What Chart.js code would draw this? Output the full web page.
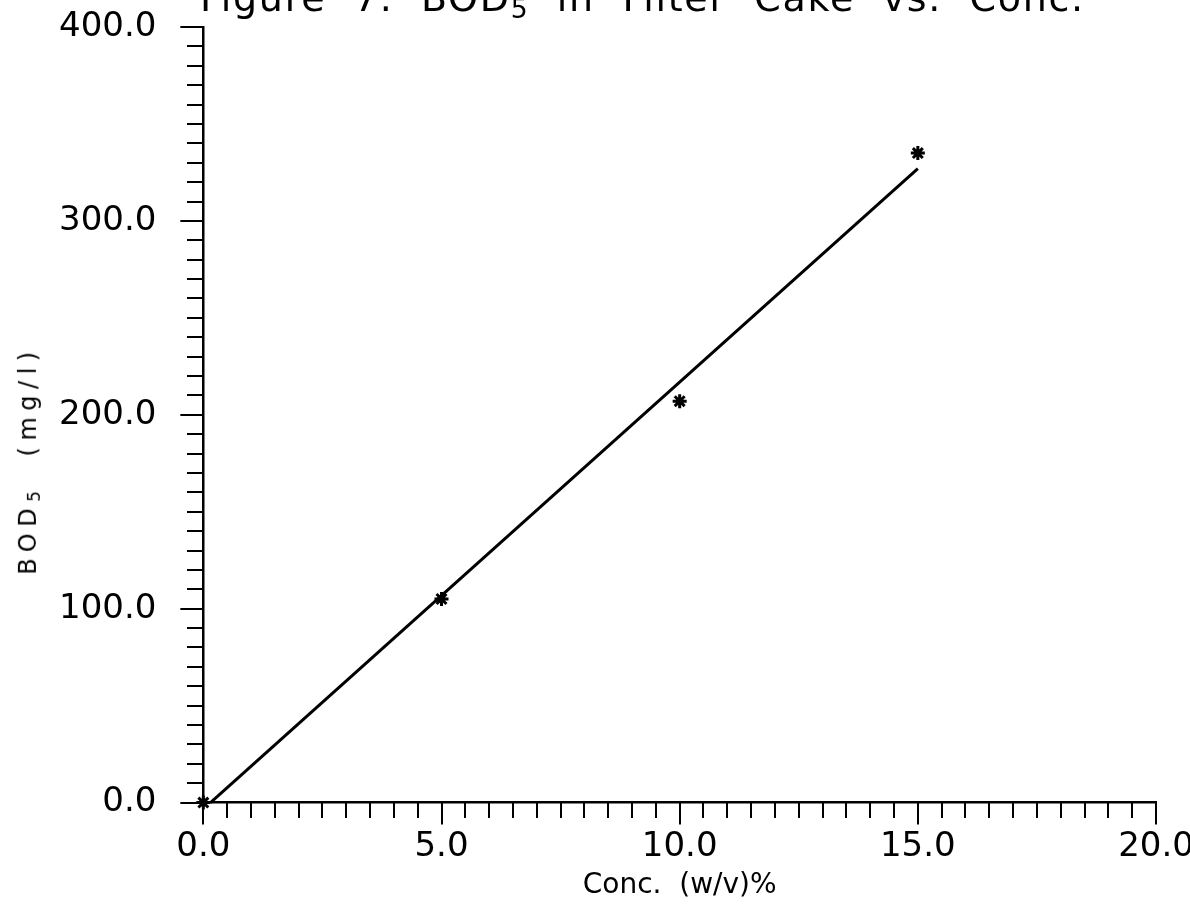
<!DOCTYPE html>
<html>
<head>
<meta charset="utf-8">
<script src="https://cdn.jsdelivr.net/npm/chart.js@4.4.0/dist/chart.umd.min.js"></script>
<style>
  html, body { margin: 0; padding: 0; background: #fff; }
  #wrap { position: relative; width: 1190px; height: 905px; overflow: hidden; background: #fff; }
  #chart { position: absolute; left: 0; top: 0; }
  #title { position: absolute; left: 200px; top: -21px; font-family: "DejaVu Sans"; font-size: 38px; line-height: 38px; letter-spacing: 1.7px; white-space: pre; color: #000; }
  #ylab { position: absolute; left: 31px; top: 460px; font-family: "DejaVu Sans"; font-size: 24px; line-height: 24px; letter-spacing: 6.5px; white-space: pre; color: #000; transform: translate(-50%, -50%) rotate(-90deg); }
  .sub { font-size: 0.7em; vertical-align: -0.25em; }
</style>
</head>
<body>
<div id="wrap">
  <canvas id="chart" width="1190" height="905"></canvas>
  <div id="title">Figure  7.  BOD<span class="sub">5</span>  in  Filter  Cake  vs.  Conc.</div>
  <div id="ylab">BOD<span class="sub">5</span>  (mg/l)</div>
</div>
<script>
// Measured points (Conc. % w/v vs BOD5 mg/l)
const conc = [0, 5, 10, 15];
const bod5 = [0, 105, 207, 335];
// Fitted straight line endpoints
const fitConc = [0.15, 15];
const fitBod5 = [0, 327];
// Axis ranges / tick steps
const xRange = [0, 20];
const yRange = [0, 400];
const xMajorStep = 5, xMinorStep = 0.5;
const yMajorStep = 100, yMinorStep = 10;
const xTitle = 'Conc.  (w/v)%';

Chart.defaults.font.family = '"DejaVu Sans"';
Chart.defaults.color = '#000';

const pts = conc.map((x, i) => ({ x: x, y: bod5[i] }));
const fit = fitConc.map((x, i) => ({ x: x, y: fitBod5[i] }));

// let the layout padding alone decide the plot-area edges
const noAutoPad = (s) => { s.paddingTop = 0; s.paddingBottom = 0; s.paddingLeft = 0; s.paddingRight = 0; };
const minorGrid = (len) => ({ drawOnChartArea: false, tickLength: len, color: '#000', lineWidth: 2 });

new Chart(document.getElementById('chart'), {
  type: 'scatter',
  data: {
    datasets: [
      { label: 'BOD5', data: pts, showLine: false, pointStyle: 'star', pointRadius: 7, pointHoverRadius: 7,
        borderColor: '#000', backgroundColor: '#000', borderWidth: 3, clip: false },
      { label: 'fit', data: fit, showLine: true, pointRadius: 0, pointHoverRadius: 0,
        borderColor: '#000', borderWidth: 3, clip: false }
    ]
  },
  options: {
    responsive: false,
    animation: false,
    devicePixelRatio: 1,
    events: [],
    layout: { autoPadding: false, padding: { left: 35, top: 27, right: 34, bottom: 2 } },
    plugins: { legend: { display: false }, tooltip: { enabled: false }, title: { display: false } },
    scales: {
      x: {
        type: 'linear', position: 'bottom', min: xRange[0], max: xRange[1],
        afterFit: noAutoPad,
        ticks: { stepSize: xMajorStep, callback: v => v.toFixed(1), font: { size: 34 }, padding: 2, maxRotation: 0, autoSkip: false, color: '#000' },
        grid: { drawOnChartArea: false, tickLength: 22, color: '#000', lineWidth: 2 },
        border: { color: '#000', width: 2.5 },
        title: { display: true, text: xTitle, font: { size: 28 }, color: '#000', padding: { top: 0, bottom: 0 } }
      },
      xMinor: {
        type: 'linear', axis: 'x', position: { y: 0 }, min: xRange[0], max: xRange[1],
        afterFit: noAutoPad,
        ticks: { stepSize: xMinorStep, display: false, autoSkip: false },
        grid: minorGrid(15),
        border: { display: false }
      },
      y: {
        type: 'linear', position: 'left', min: yRange[0], max: yRange[1],
        afterFit: noAutoPad,
        ticks: { stepSize: yMajorStep, callback: v => v.toFixed(1), font: { size: 34 }, padding: 24, autoSkip: false, color: '#000' },
        grid: { drawOnChartArea: false, tickLength: 23, color: '#000', lineWidth: 2 },
        border: { color: '#000', width: 2.5 }
      },
      yMinor: {
        type: 'linear', axis: 'y', position: { x: 0 }, min: yRange[0], max: yRange[1],
        afterFit: noAutoPad,
        ticks: { stepSize: yMinorStep, display: false, autoSkip: false },
        grid: minorGrid(16),
        border: { display: false }
      }
    }
  }
});
</script>
</body>
</html>
